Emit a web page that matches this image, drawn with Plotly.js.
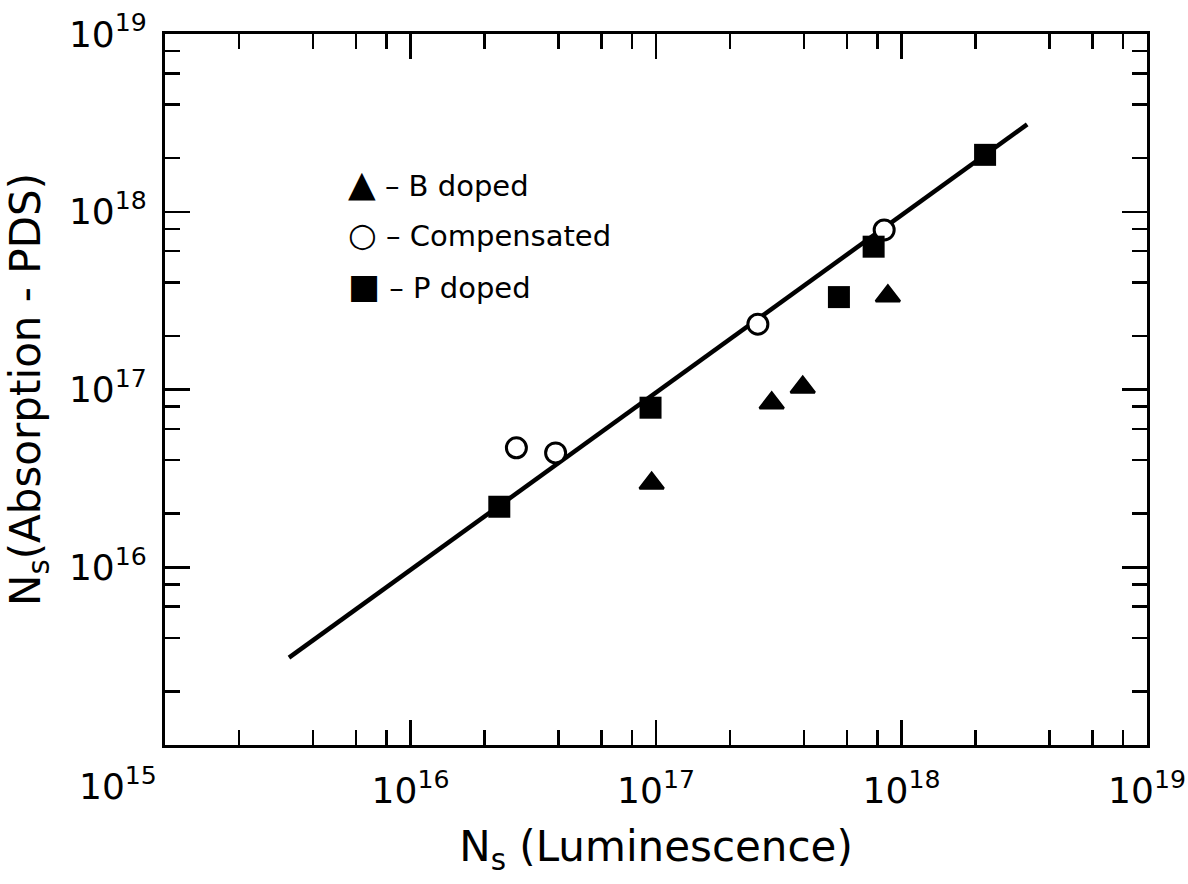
<!DOCTYPE html>
<html>
<head>
<meta charset="utf-8">
<script src="https://cdn.plot.ly/plotly-3.0.1.min.js"></script>
<style>
  html, body { margin: 0; padding: 0; background: #fff; }
  #chart { width: 1188px; height: 884px; }
</style>
</head>
<body>
<div id="chart"></div>
<script>
// Spin density Ns (cm^-3): luminescence estimate vs. absorption (PDS) estimate
const bDopedLum = [9.6e16, 2.96e17, 3.96e17, 8.8e17];
const bDopedAbs = [2.97e16, 8.4e16, 1.03e17, 3.36e17];

const compLum = [2.7e16, 3.9e16, 2.6e17, 8.5e17];
const compAbs = [4.7e16, 4.4e16, 2.33e17, 7.9e17];

const pDopedLum = [2.3e16, 9.5e16, 5.56e17, 7.7e17, 2.19e18];
const pDopedAbs = [2.19e16, 7.9e16, 3.31e17, 6.36e17, 2.09e18];

// straight line through the data
const fitLum = [3.2e15, 3.25e18];
const fitAbs = [3.1e15, 3.1e18];

// decade labels
const labelExps = [16, 17, 18, 19];
const cornerExp = 15;

const legendLabels = ['B doped', 'Compensated', 'P doped'];
const legendGlyphs = ['\u25B2', '\u25CB', '\u25A0'];
const legendGlyphSizes = [36, 33, 34];

const FONT = 'DejaVu Sans';
const pow10 = e => Math.pow(10, e);
const powLabel = e => '10<sup>' + e + '</sup>';

// minor ticks at 2, 4, 6, 8 of each decade
const minorVals = [];
for (let e = 15; e < 19; e++) {
  for (const m of [2, 4, 6, 8]) minorVals.push(m * pow10(e));
}

const traces = [
  {
    x: fitLum, y: fitAbs, mode: 'lines', type: 'scatter',
    line: { color: '#000', width: 4.5 }, hoverinfo: 'skip', showlegend: false
  },
  {
    name: legendLabels[0], x: bDopedLum, y: bDopedAbs, mode: 'markers', type: 'scatter',
    marker: { symbol: 'triangle-up', size: 21, color: '#000', line: { color: '#000', width: 2.5 } },
    showlegend: false
  },
  {
    name: legendLabels[1], x: compLum, y: compAbs, mode: 'markers', type: 'scatter',
    marker: { symbol: 'circle', size: 20, color: '#fff', line: { color: '#000', width: 3 } },
    showlegend: false
  },
  {
    name: legendLabels[2], x: pDopedLum, y: pDopedAbs, mode: 'markers', type: 'scatter',
    marker: { symbol: 'square', size: 22, color: '#000' },
    showlegend: false
  }
];

const axisCommon = {
  type: 'log',
  showline: true, linecolor: '#000', linewidth: 3,
  mirror: 'ticks',
  ticks: 'inside', ticklen: 25, tickwidth: 2.5, tickcolor: '#000',
  showgrid: false, zeroline: false,
  tickfont: { family: FONT, size: 36, color: '#000' },
  minor: { tickvals: minorVals, ticks: 'inside', ticklen: 15, tickwidth: 2.5, tickcolor: '#000', showgrid: false }
};

// legend rows as text with symbol glyphs
const legendAnns = legendLabels.map((lab, i) => ({
  xref: 'paper', yref: 'paper',
  x: 0.184, y: 0.79 - i * 0.0725,
  xanchor: 'left', yanchor: 'middle',
  text: '<span style="font-size:' + legendGlyphSizes[i] + 'px">' + legendGlyphs[i] + '</span> \u2013 ' + lab,
  showarrow: false,
  font: { family: FONT, size: 29, color: '#000' }
}));

const layout = {
  width: 1188, height: 884,
  margin: { l: 165, r: 41, t: 34, b: 139 },
  paper_bgcolor: '#fff', plot_bgcolor: '#fff',
  showlegend: false,
  xaxis: Object.assign({}, axisCommon, {
    range: [15, 19],
    tickvals: labelExps.map(pow10),
    ticktext: labelExps.map(powLabel),
    ticklabelstandoff: 12,
    title: { text: 'N<sub>s</sub> (Luminescence)', font: { family: FONT, size: 42, color: '#000' }, standoff: 22 }
  }),
  yaxis: Object.assign({}, axisCommon, {
    range: [15, 19],
    tickvals: labelExps.map(pow10),
    ticktext: labelExps.map(powLabel),
    ticklabelstandoff: 8,
    title: { text: 'N<sub>s</sub>(Absorption - PDS)', font: { family: FONT, size: 42, color: '#000' }, standoff: 16 }
  }),
  annotations: [
    {
      xref: 'paper', yref: 'paper', x: 0, y: 0,
      xanchor: 'right', yanchor: 'top', xshift: -6, yshift: -14,
      text: powLabel(cornerExp), showarrow: false,
      font: { family: FONT, size: 36, color: '#000' }
    }
  ].concat(legendAnns)
};

Plotly.newPlot('chart', traces, layout, { displayModeBar: false, staticPlot: true });
</script>
</body>
</html>
